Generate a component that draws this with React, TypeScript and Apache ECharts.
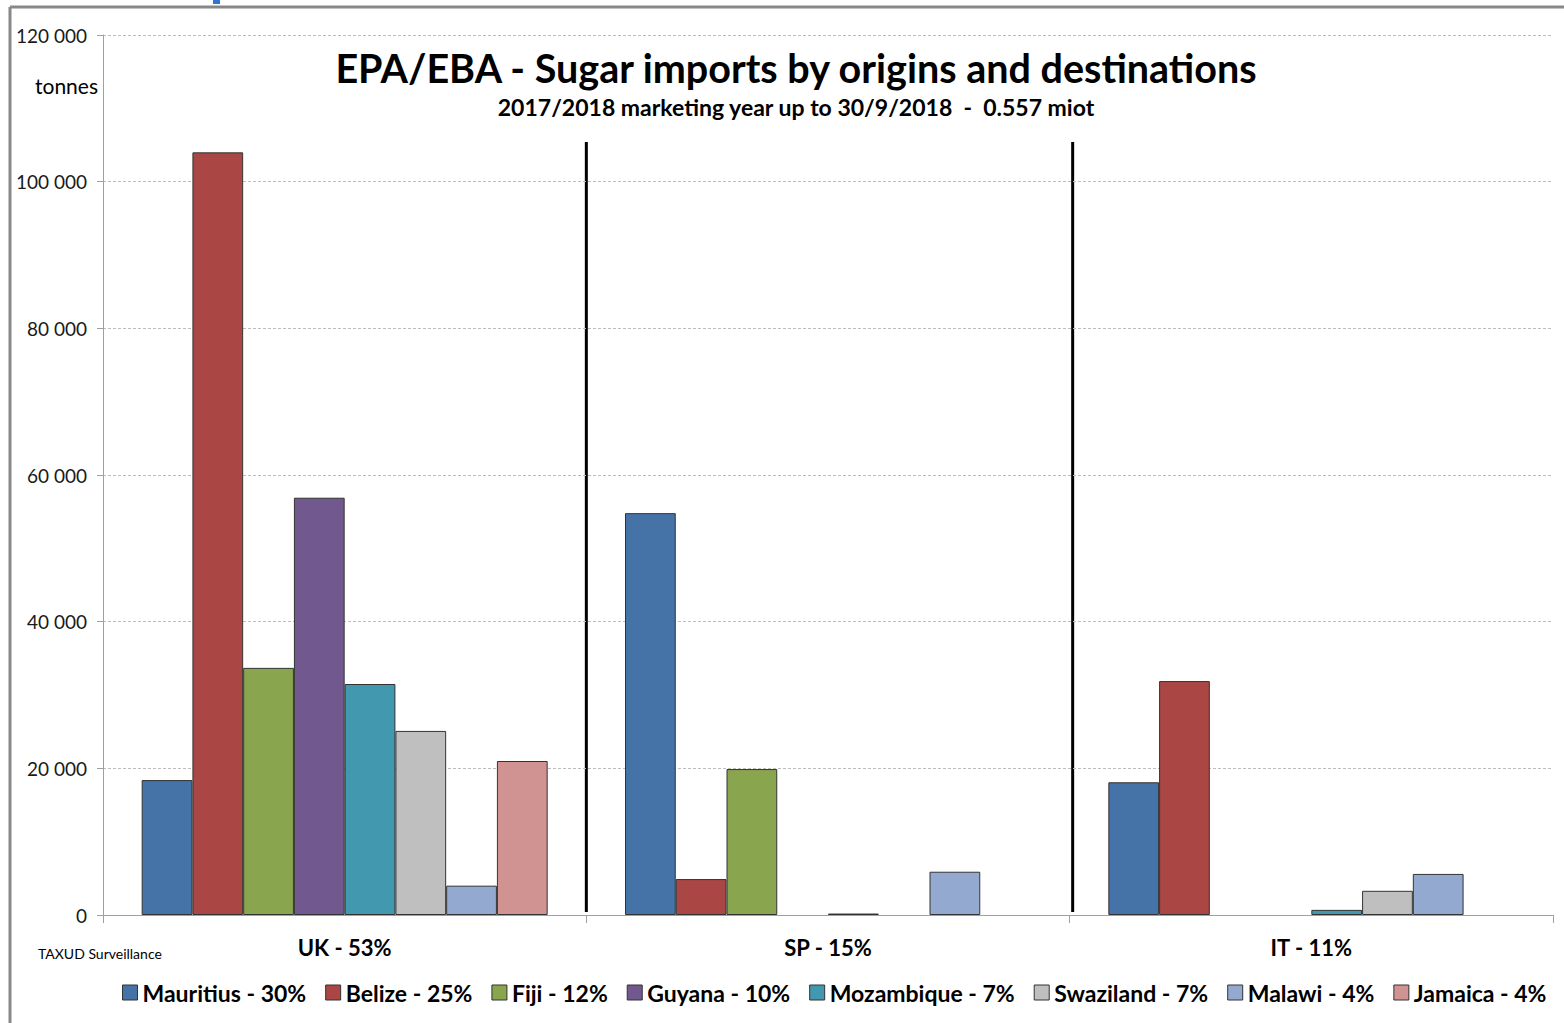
import React, { useEffect, useRef } from "react";
import * as echarts from "echarts";

const categories = ["UK - 53%", "SP - 15%", "IT - 11%"];
const seriesNames = [
  "Mauritius - 30%",
  "Belize - 25%",
  "Fiji - 12%",
  "Guyana - 10%",
  "Mozambique - 7%",
  "Swaziland - 7%",
  "Malawi - 4%",
  "Jamaica - 4%",
];
const mauritius = [18400, 54800, 18100];
const belize = [104000, 4900, 31900];
const fiji = [33700, 19900, 0];
const guyana = [56900, 0, 0];
const mozambique = [31500, 200, 700];
const swaziland = [25100, 0, 3300];
const malawi = [4000, 5900, 5600];
const jamaica = [21000, 0, 0];
const seriesValues = [mauritius, belize, fiji, guyana, mozambique, swaziland, malawi, jamaica];
const colors = ["#4572A7", "#AA4643", "#89A54E", "#71588F", "#4198AF", "#BFBFBF", "#93A9CF", "#D19392"];
const yTicks = [0, 20000, 40000, 60000, 80000, 100000, 120000];

const FONT = "Lato, 'Open Sans', sans-serif";
const W = 1564;
const H = 1023;
const GRID = { left: 103, right: 11, top: 35, bottom: 108 };

export default function App() {
  const ref = useRef<HTMLDivElement>(null);
  useEffect(() => {
    if (!ref.current) return;
    const chart = echarts.init(ref.current, null, { renderer: "svg" });
    const plotW = W - GRID.left - GRID.right;
    const sepXs = [1, 2].map((i) => GRID.left + (plotW * i) / categories.length + (i === 2 ? 3 : 0));
    chart.setOption({
      animation: false,
      backgroundColor: "#ffffff",
      textStyle: { fontFamily: FONT },
      title: {
        text: "EPA/EBA - Sugar imports by origins and destinations",
        subtext: "2017/2018 marketing year up to 30/9/2018  -  0.557 miot",
        left: 791,
        textAlign: "center",
        top: 42,
        itemGap: 8,
        textStyle: { fontFamily: FONT, fontSize: 39.5, fontWeight: "bold", color: "#000" },
        subtextStyle: { fontFamily: FONT, fontSize: 23, fontWeight: "bold", color: "#000" },
      },
      legend: {
        bottom: 14,
        left: 117,
        itemWidth: 15,
        itemHeight: 15,
        itemGap: 19,
        itemStyle: { borderColor: "#333", borderWidth: 1 },
        icon: "rect",
        data: seriesNames,
        textStyle: { fontFamily: FONT, fontSize: 23, fontWeight: "bold", color: "#000" },
      },
      grid: { ...GRID, containLabel: false },
      xAxis: {
        type: "category",
        data: categories,
        axisLine: { lineStyle: { color: "#A0A0A0", width: 1 } },
        axisTick: { show: true, length: 8, lineStyle: { color: "#A0A0A0" } },
        axisLabel: { fontFamily: FONT, fontSize: 22, fontWeight: "bold", color: "#000", margin: 21 },
      },
      yAxis: {
        type: "value",
        min: 0,
        max: 120000,
        interval: 20000,
        axisLine: { show: true, lineStyle: { color: "#A0A0A0" } },
        axisTick: { show: true, length: 6, lineStyle: { color: "#A0A0A0" } },
        splitLine: { lineStyle: { color: "#BDBDBD", type: [3, 2], width: 1 } },
        axisLabel: {
          fontFamily: FONT,
          fontSize: 19,
          color: "#1a1a1a",
          margin: 16,
          formatter: (v: number) =>
            yTicks.includes(v) ? String(v).replace(/\B(?=(\d{3})+(?!\d))/g, " ") : "",
        },
      },
      series: seriesNames.map((name, i) => ({
        name,
        type: "bar",
        data: seriesValues[i].map((v) => (v === 0 ? null : v)),
        barGap: "0%",
        barCategoryGap: "16%",
        itemStyle: { color: colors[i], borderColor: "#333333", borderWidth: 1 },
      })),
      graphic: [
        { type: "line", shape: { x1: 10, y1: 7, x2: W, y2: 7 }, style: { stroke: "#888", lineWidth: 3 } },
        { type: "line", shape: { x1: 10, y1: 7, x2: 10, y2: H }, style: { stroke: "#888", lineWidth: 3 } },
        { type: "rect", shape: { x: 213, y: 0, width: 7, height: 4 }, style: { fill: "#2E75D6" } },
        ...sepXs.map((x) => ({
          type: "line",
          shape: { x1: x, y1: 142, x2: x, y2: 912 },
          style: { stroke: "#000", lineWidth: 3 },
        })),
        {
          type: "text",
          left: 35,
          top: 75,
          style: { text: "tonnes", fontFamily: FONT, fontSize: 21, fill: "#000" },
        },
        {
          type: "text",
          left: 38,
          top: 946,
          style: { text: "TAXUD Surveillance", fontFamily: FONT, fontSize: 14, fill: "#000" },
        },
      ],
    });
    return () => chart.dispose();
  }, []);
  return (
    <div
      ref={ref}
      style={{ position: "fixed", left: 0, top: 0, width: W, height: H, background: "#fff" }}
    />
  );
}
